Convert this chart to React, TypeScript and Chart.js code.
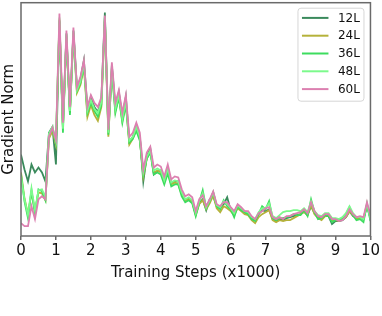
import React, { useEffect, useRef } from "react";
import { Chart, registerables } from "chart.js";

Chart.register(...registerables);

const steps = [
  0, 0.1, 0.2, 0.3, 0.4, 0.5, 0.6, 0.7, 0.8, 0.9,
  1, 1.1, 1.2, 1.3, 1.4, 1.5, 1.6, 1.7, 1.8, 1.9,
  2, 2.1, 2.2, 2.3, 2.4, 2.5, 2.6, 2.7, 2.8, 2.9,
  3, 3.1, 3.2, 3.3, 3.4, 3.5, 3.6, 3.7, 3.8, 3.9,
  4, 4.1, 4.2, 4.3, 4.4, 4.5, 4.6, 4.7, 4.8, 4.9,
  5, 5.1, 5.2, 5.3, 5.4, 5.5, 5.6, 5.7, 5.8, 5.9,
  6, 6.1, 6.2, 6.3, 6.4, 6.5, 6.6, 6.7, 6.8, 6.9,
  7, 7.1, 7.2, 7.3, 7.4, 7.5, 7.6, 7.7, 7.8, 7.9,
  8, 8.1, 8.2, 8.3, 8.4, 8.5, 8.6, 8.7, 8.8, 8.9,
  9, 9.1, 9.2, 9.3, 9.4, 9.5, 9.6, 9.7, 9.8, 9.9,
  10,
];

const xTicks = [0, 1, 2, 3, 4, 5, 6, 7, 8, 9, 10];

const seriesNames = ["12L", "24L", "36L", "48L", "60L"];
const seriesColors = ["#3a8a5c", "#b5b23a", "#3ddc5e", "#7cfa8c", "#dc80b0"];

const norm12L = [
  82, 67, 55, 72, 64, 69, 64, 55, 104, 110,
  72, 217, 110, 204, 125, 207, 150, 158, 177, 128,
  140, 130, 125, 138, 225, 105, 172, 130, 145, 120,
  140, 95, 100, 110, 100, 55, 80, 88, 62, 65,
  66, 55, 67, 53, 55, 55, 43, 36, 38, 35,
  22, 33, 37, 26, 37, 40, 30, 28, 32, 39,
  26, 24, 30, 27, 24, 22, 18, 16, 22, 26,
  25, 27, 17, 15, 17, 16, 18, 19, 20, 21,
  22, 25, 21, 30, 23, 19, 17, 20, 20, 12,
  15, 15, 16, 19, 25, 20, 18, 18, 17, 30,
  18,
];

const norm24L = [
  64, 38, 22, 44, 25, 44, 43, 36, 98, 106,
  92, 218, 108, 200, 124, 203, 144, 152, 170, 120,
  132, 122, 116, 130, 218, 100, 168, 126, 140, 116,
  134, 92, 98, 108, 98, 60, 78, 86, 64, 66,
  64, 55, 64, 52, 54, 52, 42, 36, 37, 34,
  21, 32, 36, 27, 33, 41, 28, 24, 30, 28,
  25, 21, 28, 25, 22, 21, 16, 13, 19, 22,
  24, 26, 16, 14, 16, 15, 16, 16, 18, 20,
  22, 24, 21, 31, 22, 18, 16, 20, 21, 16,
  16, 15, 17, 19, 25, 21, 17, 18, 18, 31,
  20,
];

const norm36L = [
  62, 35, 18, 46, 22, 47, 45, 36, 102, 108,
  94, 216, 104, 202, 122, 205, 146, 154, 172, 124,
  134, 126, 120, 132, 220, 102, 166, 124, 140, 114,
  132, 94, 98, 106, 96, 62, 78, 84, 62, 64,
  62, 52, 63, 50, 52, 52, 40, 34, 36, 33,
  20, 34, 46, 28, 35, 44, 30, 27, 36, 30,
  27, 19, 30, 26, 24, 22, 17, 15, 22, 30,
  27, 35, 18, 16, 18, 18, 19, 20, 22, 21,
  21, 26, 20, 37, 24, 17, 18, 21, 20, 14,
  16, 16, 18, 22, 29, 21, 16, 17, 14, 32,
  15,
];

const norm48L = [
  60, 37, 21, 48, 26, 46, 47, 39, 103, 110,
  96, 220, 108, 204, 126, 206, 147, 156, 174, 126,
  137, 128, 124, 135, 221, 104, 170, 128, 143, 118,
  136, 96, 100, 110, 100, 64, 80, 86, 66, 68,
  66, 56, 68, 54, 56, 55, 44, 37, 39, 36,
  23, 35, 43, 29, 36, 44, 31, 29, 35, 32,
  28, 23, 31, 28, 25, 24, 19, 17, 24, 28,
  28, 33, 20, 18, 21, 24, 25, 25, 26, 26,
  25, 28, 24, 35, 25, 21, 20, 23, 23, 18,
  18, 17, 19, 23, 30, 23, 19, 19, 17, 33,
  17,
];

const norm60L = [
  13, 10, 10, 30, 17, 37, 40, 37, 100, 109,
  97, 224, 114, 207, 130, 210, 150, 160, 177, 130,
  142, 134, 130, 140, 222, 107, 175, 134, 147, 124,
  142, 100, 104, 114, 104, 67, 84, 90, 69, 72,
  70, 60, 72, 57, 60, 59, 47, 40, 42, 39,
  25, 37, 41, 30, 37, 45, 32, 30, 34, 34,
  29, 25, 32, 29, 25, 25, 20, 17, 23, 25,
  28, 29, 19, 17, 19, 17, 20, 20, 22, 23,
  24, 27, 23, 34, 25, 20, 19, 22, 22, 17,
  17, 15, 16, 20, 27, 22, 19, 20, 19, 34,
  21,
];

const allSeries = [norm12L, norm24L, norm36L, norm48L, norm60L];

const FONT = "'DejaVu Sans', sans-serif";

const frameLegendPlugin = {
  id: "frameLegend",
  afterDatasetsDraw(chart: any) {
    const { ctx, chartArea: a } = chart;
    ctx.save();
    ctx.strokeStyle = "#6a6a6a";
    ctx.lineWidth = 1.5;
    ctx.strokeRect(a.left, a.top, a.right - a.left, a.bottom - a.top);

    // legend box (upper right)
    const bw = 66;
    const bh = 93;
    const bx = a.right - 6.5 - bw;
    const by = a.top + 5.5;
    const r = 3;
    ctx.beginPath();
    ctx.moveTo(bx + r, by);
    ctx.lineTo(bx + bw - r, by);
    ctx.quadraticCurveTo(bx + bw, by, bx + bw, by + r);
    ctx.lineTo(bx + bw, by + bh - r);
    ctx.quadraticCurveTo(bx + bw, by + bh, bx + bw - r, by + bh);
    ctx.lineTo(bx + r, by + bh);
    ctx.quadraticCurveTo(bx, by + bh, bx, by + bh - r);
    ctx.lineTo(bx, by + r);
    ctx.quadraticCurveTo(bx, by, bx + r, by);
    ctx.closePath();
    ctx.fillStyle = "rgba(255,255,255,0.85)";
    ctx.fill();
    ctx.strokeStyle = "#d6d6d6";
    ctx.lineWidth = 1;
    ctx.stroke();

    ctx.font = `12px ${FONT}`;
    ctx.textBaseline = "middle";
    ctx.textAlign = "left";
    seriesNames.forEach((name, i) => {
      const y = by + 9.7 + i * 17.8;
      ctx.strokeStyle = seriesColors[i];
      ctx.lineWidth = 2;
      ctx.beginPath();
      ctx.moveTo(bx + 4, y);
      ctx.lineTo(bx + 30.5, y);
      ctx.stroke();
      ctx.fillStyle = "#111";
      ctx.fillText(name, bx + 40, y + 0.5);
    });
    ctx.restore();
  },
};

export default function App() {
  const ref = useRef<HTMLCanvasElement | null>(null);

  useEffect(() => {
    document.body.style.margin = "0";
    const canvas = ref.current;
    if (!canvas) return;
    const datasets = seriesNames.map((name, i) => ({
      label: name,
      data: steps.map((s, j) => ({ x: s, y: allSeries[i][j] })),
      borderColor: seriesColors[i],
      backgroundColor: seriesColors[i],
      borderWidth: 1.8,
      pointRadius: 0,
      tension: 0,
      fill: false,
      order: seriesNames.length - i,
    }));
    const chart = new Chart(canvas, {
      type: "line",
      data: { datasets },
      options: {
        animation: false,
        responsive: false,
        devicePixelRatio: 1,
        layout: { padding: { left: 0, right: 9.7, top: 2.7, bottom: 34 } },
        plugins: { legend: { display: false }, tooltip: { enabled: false } },
        scales: {
          x: {
            type: "linear",
            min: 0,
            max: 10,
            afterBuildTicks: (axis: any) => {
              axis.ticks = xTicks.map((v) => ({ value: v }));
            },
            ticks: {
              font: { family: FONT, size: 15 },
              color: "#111",
              padding: 2,
              maxRotation: 0,
              autoSkip: false,
            },
            grid: {
              display: true,
              drawOnChartArea: false,
              drawTicks: true,
              tickLength: 4,
              color: "#6a6a6a",
              lineWidth: 1.5,
            },
            border: { display: false },
            title: {
              display: true,
              text: "Training Steps (x1000)",
              font: { family: FONT, size: 15 },
              color: "#111",
              padding: { top: 2, bottom: 0 },
            },
          },
          y: {
            type: "linear",
            min: 0,
            max: 235,
            ticks: { display: false },
            grid: { display: false, drawTicks: false },
            border: { display: false },
            title: {
              display: true,
              text: "Gradient Norm",
              font: { family: FONT, size: 15 },
              color: "#111",
              padding: { top: 0, bottom: 3 },
            },
          },
        },
      },
      plugins: [frameLegendPlugin],
    });
    return () => chart.destroy();
  }, []);

  return (
    <div style={{ position: "fixed", left: 0, top: 0, width: 382, height: 316, background: "#fff" }}>
      <canvas ref={ref} width={382} height={316} style={{ width: 382, height: 316 }} />
    </div>
  );
}
